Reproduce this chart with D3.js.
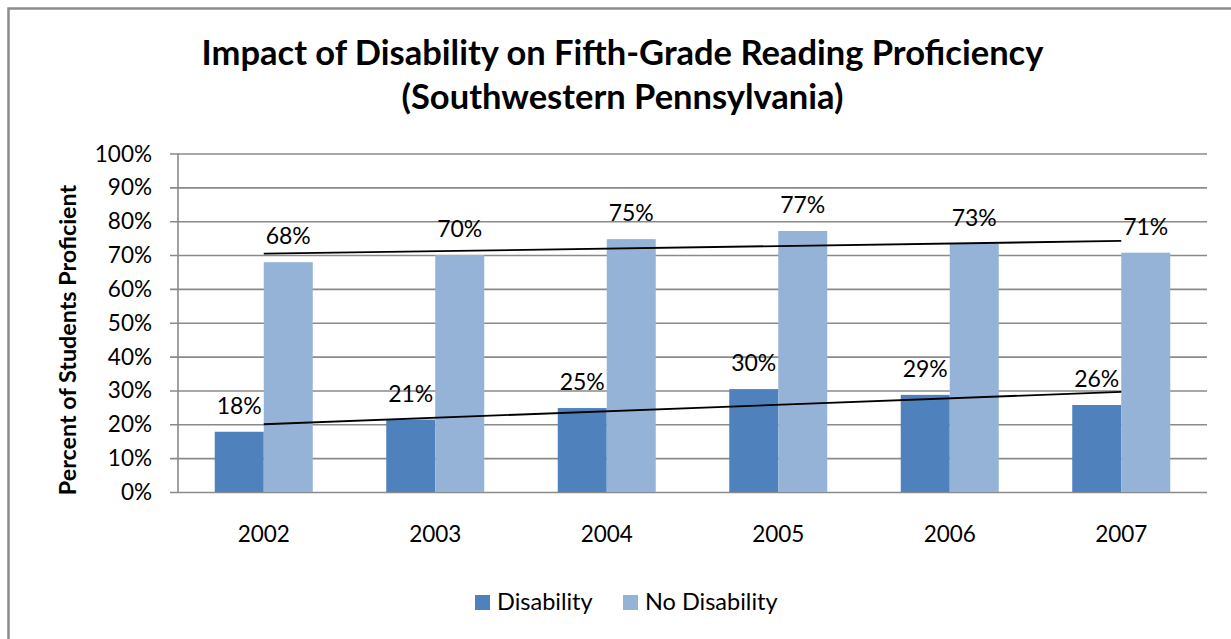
<!DOCTYPE html>
<html>
<head>
<meta charset="utf-8">
<script src="https://cdnjs.cloudflare.com/ajax/libs/d3/7.8.5/d3.min.js"></script>
<style>
  html, body { margin: 0; padding: 0; background: #fff; }
  svg { display: block; font-family: Lato, "Open Sans", sans-serif; }
</style>
</head>
<body>
<svg id="chart" width="1231" height="639"></svg>
<script>
// Chart data
const years = ["2002", "2003", "2004", "2005", "2006", "2007"];
const seriesNames = ["Disability", "No Disability"];
const disability = [0.178, 0.214, 0.248, 0.304, 0.287, 0.257];
const noDisability = [0.679, 0.700, 0.747, 0.771, 0.733, 0.707];
const yTicks = [0, 0.1, 0.2, 0.3, 0.4, 0.5, 0.6, 0.7, 0.8, 0.9, 1.0];
const titleLines = ["Impact of Disability on Fifth-Grade Reading Proficiency", "(Southwestern Pennsylvania)"];
const yTitle = "Percent of Students Proficient";

const colors = { "Disability": "#4F81BD", "No Disability": "#95B3D7" };
const seriesValues = { "Disability": disability, "No Disability": noDisability };

const svg = d3.select("#chart");
const margin = { left: 178, right: 1207, top: 153.5, bottom: 492 };

// outer chart frame
svg.append("rect")
  .attr("x", 8.5).attr("y", 8.5)
  .attr("width", 1300).attr("height", 700)
  .attr("fill", "#fff")
  .attr("stroke", "#8c8c8c")
  .attr("stroke-width", 2.5);

// title
svg.append("g").selectAll("text").data(titleLines).join("text")
  .attr("x", 622.5)
  .attr("y", (d, i) => 65 + i * 44)
  .attr("text-anchor", "middle")
  .attr("font-weight", "bold")
  .attr("font-size", 34.5)
  .attr("fill", "#000")
  .text(d => d);

// scales
const x0 = d3.scaleBand().domain(years).range([margin.left, margin.right]);
const bw = x0.bandwidth();
const barW = bw / 3.5; // gap width 150%
const x1 = d3.scaleBand().domain(seriesNames).range([bw / 2 - barW, bw / 2 + barW]);
const y = d3.scaleLinear().domain([0, 1]).range([margin.bottom, margin.top]);

// gridlines with tick stubs
const grid = svg.append("g")
  .attr("transform", `translate(${margin.left},0)`)
  .call(d3.axisLeft(y).tickValues(yTicks).tickSize(-(margin.right - margin.left)).tickFormat(""))
  .call(g => g.select(".domain").remove());
grid.selectAll(".tick line")
  .attr("x1", -8)
  .attr("stroke", "#8a8a8a")
  .attr("stroke-width", 1.6);

// y axis line
svg.append("line")
  .attr("x1", margin.left).attr("x2", margin.left)
  .attr("y1", y(1)).attr("y2", y(0))
  .attr("stroke", "#8a8a8a").attr("stroke-width", 1.6);

// y tick labels
svg.append("g").selectAll("text").data(yTicks).join("text")
  .attr("x", 152)
  .attr("y", d => y(d) + 8)
  .attr("text-anchor", "end")
  .attr("font-size", 22.5)
  .attr("fill", "#000")
  .text(d3.format(".0%"));

// y axis title
svg.append("text")
  .attr("transform", "translate(76,340) rotate(-90)")
  .attr("text-anchor", "middle")
  .attr("font-weight", "bold")
  .attr("font-size", 23.3)
  .attr("fill", "#000")
  .text(yTitle);

// bars
const groups = svg.append("g").selectAll("g").data(years).join("g")
  .attr("transform", d => `translate(${x0(d)},0)`);
groups.selectAll("rect")
  .data((d, i) => seriesNames.map(s => ({ s, v: seriesValues[s][i] })))
  .join("rect")
  .attr("x", d => x1(d.s))
  .attr("width", x1.bandwidth())
  .attr("y", d => y(d.v))
  .attr("height", d => y(0) - y(d.v))
  .attr("fill", d => colors[d.s]);

// linear trend lines (least squares over category index)
function fit(vals) {
  const n = vals.length;
  const xs = d3.range(n);
  const mx = d3.mean(xs), my = d3.mean(vals);
  const slope = d3.sum(xs, i => (i - mx) * (vals[i] - my)) / d3.sum(xs, i => (i - mx) ** 2);
  return i => my + slope * (i - mx);
}
const cx = yr => x0(yr) + bw / 2;
seriesNames.forEach(s => {
  const f = fit(seriesValues[s]);
  svg.append("line")
    .attr("x1", cx(years[0])).attr("y1", y(f(0)))
    .attr("x2", cx(years[years.length - 1])).attr("y2", y(f(years.length - 1)))
    .attr("stroke", "#000").attr("stroke-width", 1.8);
});

// data labels
groups.selectAll("text.lbl")
  .data((d, i) => seriesNames.map(s => ({ s, v: seriesValues[s][i] })))
  .join("text")
  .attr("class", "lbl")
  .attr("x", d => x1(d.s) + x1.bandwidth() / 2)
  .attr("y", d => y(d.v) - 18)
  .attr("text-anchor", "middle")
  .attr("font-size", 23)
  .attr("fill", "#000")
  .text(d => d3.format(".0%")(d.v));

// x tick labels
svg.append("g").selectAll("text").data(years).join("text")
  .attr("x", d => cx(d))
  .attr("y", 542)
  .attr("text-anchor", "middle")
  .attr("font-size", 22.5)
  .attr("fill", "#000")
  .text(d => d);

// legend
const legendItems = [
  { s: "Disability", x: 475 },
  { s: "No Disability", x: 623 }
];
const lg = svg.append("g").selectAll("g").data(legendItems).join("g")
  .attr("transform", d => `translate(${d.x},595)`);
lg.append("rect")
  .attr("width", 15).attr("height", 15)
  .attr("fill", d => colors[d.s]);
lg.append("text")
  .attr("x", 22).attr("y", 15)
  .attr("font-size", 23.5)
  .attr("fill", "#000")
  .text(d => d.s);
</script>
</body>
</html>
